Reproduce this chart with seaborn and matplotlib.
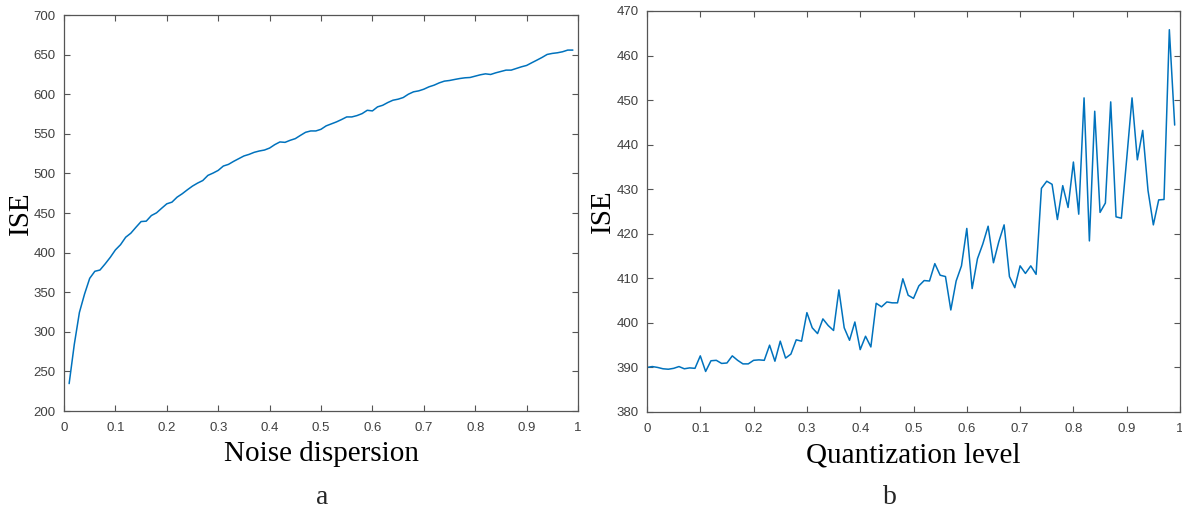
import numpy as np
import pandas as pd
import matplotlib
matplotlib.use("Agg")
import matplotlib.pyplot as plt
import seaborn as sns

# Panel a: ISE vs noise dispersion
noise_x = [round(0.01 * i, 2) for i in range(1, 100)]
noise_ise = [234.6, 284.0, 324.5, 347.7, 367.5, 376.4, 378.0, 385.7, 394.0, 403.4,
             410.0, 419.4, 424.5, 432.0, 439.2, 439.7, 446.8, 450.2, 456.0, 461.6,
             463.7, 470.0, 474.3, 479.3, 484.0, 487.8, 491.0, 497.5, 500.4, 503.8,
             509.3, 511.4, 515.2, 518.6, 522.0, 524.0, 526.6, 528.3, 529.5, 532.0,
             536.3, 539.7, 539.2, 541.8, 543.9, 548.0, 551.9, 553.6, 553.6, 555.7,
             560.0, 562.5, 565.0, 568.0, 571.3, 571.3, 573.0, 575.5, 579.7, 578.9,
             584.0, 586.0, 589.5, 592.4, 593.7, 595.8, 600.0, 603.0, 604.2, 606.3,
             609.3, 611.4, 614.3, 616.5, 617.3, 618.6, 619.8, 620.7, 621.1, 622.8,
             624.5, 625.7, 624.9, 627.0, 628.7, 630.4, 630.4, 632.5, 634.6, 636.3,
             639.7, 643.0, 646.4, 650.2, 651.5, 652.3, 653.6, 655.7, 655.7]

# Panel b: ISE vs quantization level
quant_x = [round(0.01 * i, 2) for i in range(0, 100)]
quant_ise = [390.0, 390.2, 390.0, 389.7, 389.6, 389.8, 390.2, 389.7, 389.9, 389.8,
             392.6, 389.1, 391.5, 391.6, 390.9, 391.0, 392.6, 391.6, 390.8, 390.8,
             391.6, 391.7, 391.6, 395.0, 391.4, 395.9, 392.1, 393.0, 396.2, 395.9,
             402.3, 398.9, 397.6, 400.9, 399.4, 398.3, 407.4, 398.9, 396.1, 400.2,
             394.0, 397.0, 394.6, 404.4, 403.6, 404.7, 404.5, 404.5, 409.9, 406.2,
             405.5, 408.3, 409.5, 409.4, 413.3, 410.7, 410.4, 402.9, 409.4, 412.8,
             421.2, 407.7, 414.4, 417.7, 421.7, 413.5, 418.2, 422.0, 410.4, 407.9,
             412.8, 411.1, 412.8, 410.9, 430.2, 431.8, 431.1, 423.2, 430.8, 425.9,
             436.1, 424.4, 450.5, 418.4, 447.5, 424.8, 426.9, 449.6, 423.8, 423.5,
             436.8, 450.5, 436.6, 443.2, 429.7, 422.0, 427.6, 427.7, 465.8, 444.4]

a_ticks_y = [200, 250, 300, 350, 400, 450, 500, 550, 600, 650, 700]
b_ticks_y = [380, 390, 400, 410, 420, 430, 440, 450, 460, 470]
x_ticks = [0, 0.1, 0.2, 0.3, 0.4, 0.5, 0.6, 0.7, 0.8, 0.9, 1]
x_ticklabels = ["0", "0.1", "0.2", "0.3", "0.4", "0.5", "0.6", "0.7", "0.8", "0.9", "1"]

sns.set_theme(style="ticks")
plt.rcParams["font.family"] = ["Liberation Sans", "DejaVu Sans"]

W, H = 1182, 508
fig = plt.figure(figsize=(W / 100, H / 100), dpi=100)

def box(l, t, r, b):
    return [l / W, 1 - b / H, (r - l) / W, (b - t) / H]

ax_a = fig.add_axes(box(64, 15, 578, 411))
ax_b = fig.add_axes(box(647, 11, 1180, 412))

line_color = "#0072BD"
df_a = pd.DataFrame({"x": noise_x, "y": noise_ise})
df_b = pd.DataFrame({"x": quant_x, "y": quant_ise})
sns.lineplot(data=df_a, x="x", y="y", ax=ax_a, color=line_color, linewidth=1.1)
sns.lineplot(data=df_b, x="x", y="y", ax=ax_b, color=line_color, linewidth=1.1)

serif = ["Liberation Serif", "DejaVu Serif"]
for ax, yt, xlabel in [(ax_a, a_ticks_y, "Noise dispersion"),
                       (ax_b, b_ticks_y, "Quantization level")]:
    ax.set_xlim(0, 1)
    ax.set_ylim(yt[0], yt[-1])
    ax.set_xticks(x_ticks)
    ax.set_xticklabels(x_ticklabels)
    ax.set_yticks(yt)
    ax.set_yticklabels([str(v) for v in yt])
    ax.tick_params(direction="in", length=4, width=0.8, colors="#555555",
                   labelcolor="#404040", labelsize=9.5, top=True, right=True,
                   pad=6)
    ax.tick_params(axis="x", pad=8)
    for s in ax.spines.values():
        s.set_visible(True)
        s.set_color("#555555")
        s.set_linewidth(0.9)
    ax.set_xlabel(xlabel, family=serif, fontsize=21, color="black", labelpad=5)
    ax.set_ylabel("ISE", family=serif, fontsize=21, color="black", labelpad=0)
    ax.set_facecolor("white")

fig.text(322 / W, 1 - 497 / H, "a", family=serif, fontsize=20, ha="center", va="center")
fig.text(890 / W, 1 - 497 / H, "b", family=serif, fontsize=20, ha="center", va="center")

fig.savefig("out.png", dpi=100, facecolor="white")
